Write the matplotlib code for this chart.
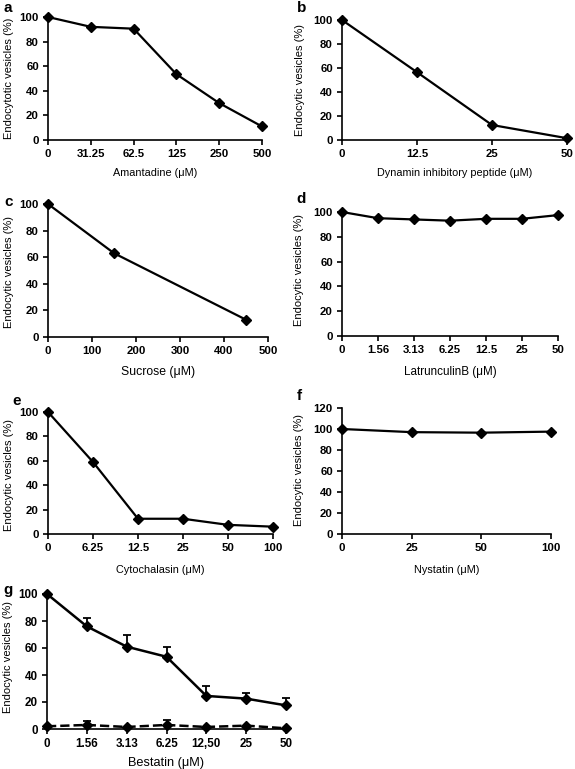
import matplotlib
matplotlib.use("Agg")
import matplotlib.pyplot as plt

plt.rcParams['font.family'] = ['Liberation Sans', 'DejaVu Sans']

# panel a - amantadine
amantadine_labels = ['0', '31.25', '62.5', '125', '250', '500']
amantadine_vals = [100, 92, 90.5, 53.5, 30, 11]

# panel b - dynamin inhibitory peptide
dynamin_labels = ['0', '12.5', '25', '50']
dynamin_vals = [100, 56.5, 12.5, 1.5]

# panel c - sucrose (numeric axis)
sucrose_x = [0, 150, 450]
sucrose_vals = [100, 63, 13]

# panel d - latrunculin B
latb_labels = ['0', '1.56', '3.13', '6.25', '12.5', '25', '50']
latb_vals = [100, 95, 94, 93, 94.5, 94.5, 97.5]

# panel e - cytochalasin
cyto_labels = ['0', '6.25', '12.5', '25', '50', '100']
cyto_vals = [100, 59, 12.5, 12.5, 7.5, 6]

# panel f - nystatin
nys_labels = ['0', '25', '50', '100']
nys_vals = [100, 97, 96.5, 97.5]

# panel g - bestatin, two series with upper error bars
best_labels = ['0', '1.56', '3.13', '6.25', '12,50', '25', '50']
best_vals = [100, 76, 61, 53.5, 24.5, 22.5, 17.5]
best_err = [0, 6, 9, 7.5, 7.5, 4.5, 5.5]
ctrl_vals = [2, 3, 1.5, 3, 1.5, 2.5, 0.5]
ctrl_err = [0, 3, 0, 4, 0, 0, 0]

W, H = 575, 769


def make_ax(fig, left, right, top, bottom):
    return fig.add_axes([left / W, 1 - bottom / H, (right - left) / W, (bottom - top) / H])


def style(ax, ylabel, xlabel, ylab_xy, xlab_y, xfs=7.8, fs=8.2, yfs=8.0):
    fig = ax.figure
    for s in ['top', 'right']:
        ax.spines[s].set_visible(False)
    for s in ['left', 'bottom']:
        ax.spines[s].set_linewidth(1.2)
    ax.tick_params(direction='out', length=3.5, width=1.2, labelsize=fs, pad=3)
    for t in ax.get_xticklabels() + ax.get_yticklabels():
        t.set_fontweight('bold')
    # y label: x is the right edge of the rotated text, y its centre (pixels)
    ax.set_ylabel(ylabel, fontsize=yfs)
    ax.yaxis.set_label_coords(ylab_xy[0] / W, 1 - ylab_xy[1] / H, transform=fig.transFigure)
    bb = ax.get_position()
    ax.set_xlabel(xlabel, fontsize=xfs, va='center')
    ax.xaxis.set_label_coords(bb.x0 + bb.width / 2, 1 - xlab_y / H, transform=fig.transFigure)


def letter(fig, x, y, s):
    fig.text(x / W, 1 - y / H, s, fontsize=11, fontweight='bold', va='center', ha='center')


def cat_panel(ax, labels, vals, ylim=(0, 100), yticks=range(0, 101, 20)):
    xs = list(range(len(labels)))
    ax.plot(xs, vals, color='black', lw=1.6, marker='D', ms=5, clip_on=False, zorder=3)
    ax.set_xlim(0, len(labels) - 1)
    ax.set_ylim(*ylim)
    ax.set_xticks(xs)
    ax.set_xticklabels(labels)
    ax.set_yticks(list(yticks))


fig = plt.figure(figsize=(5.75, 7.69), dpi=100)

ax = make_ax(fig, 48, 262, 17, 140)
cat_panel(ax, amantadine_labels, amantadine_vals)
style(ax, 'Endocytotic vesicles (%)', 'Amantadine (\u03bcM)', (14, 78), 173)
letter(fig, 8, 8, 'a')

ax = make_ax(fig, 342, 567, 20, 140)
cat_panel(ax, dynamin_labels, dynamin_vals)
style(ax, 'Endocytic vesicles (%)', 'Dynamin inhibitory peptide (\u03bcM)', (305, 80), 173)
letter(fig, 302, 8, 'b')

ax = make_ax(fig, 48, 268, 204, 337)
ax.plot(sucrose_x, sucrose_vals, color='black', lw=1.6, marker='D', ms=5, clip_on=False, zorder=3)
ax.set_xlim(0, 500)
ax.set_ylim(0, 100)
ax.set_xticks(range(0, 501, 100))
ax.set_yticks(range(0, 101, 20))
style(ax, 'Endocytic vesicles (%)', 'Sucrose (\u03bcM)', (14, 272), 372, xfs=8.8)
letter(fig, 9, 202, 'c')

ax = make_ax(fig, 342, 558, 212, 336)
cat_panel(ax, latb_labels, latb_vals)
style(ax, 'Endocytic vesicles (%)', 'LatrunculinB (\u03bcM)', (304, 270), 372, xfs=8.4)
letter(fig, 301, 199, 'd')

ax = make_ax(fig, 48, 273, 412, 534)
cat_panel(ax, cyto_labels, cyto_vals)
style(ax, 'Endocytic vesicles (%)', 'Cytochalasin (\u03bcM)', (14, 475), 570)
letter(fig, 17, 401, 'e')

ax = make_ax(fig, 342, 551, 408, 534)
cat_panel(ax, nys_labels, nys_vals, ylim=(0, 120), yticks=range(0, 121, 20))
style(ax, 'Endocytic vesicles (%)', 'Nystatin (\u03bcM)', (304, 470), 570)
letter(fig, 299, 396, 'f')

ax = make_ax(fig, 47, 286, 594, 729)
xs = list(range(len(best_labels)))
ax.errorbar(xs, best_vals, yerr=[[0] * len(xs), best_err], color='black', lw=1.8,
            marker='D', ms=5.5, capsize=3, elinewidth=1.3, capthick=1.3, clip_on=False, zorder=3)
ax.errorbar(xs, ctrl_vals, yerr=[[0] * len(xs), ctrl_err], color='black', lw=1.8, ls='--',
            marker='D', ms=5.5, capsize=3, elinewidth=1.3, capthick=1.3, clip_on=False, zorder=3)
ax.set_xlim(0, len(xs) - 1)
ax.set_ylim(0, 100)
ax.set_xticks(xs)
ax.set_xticklabels(best_labels)
ax.set_yticks(range(0, 101, 20))
style(ax, 'Endocytic vesicles (%)', 'Bestatin (\u03bcM)', (13, 657), 763, xfs=9.2, fs=8.4)
letter(fig, 8, 590, 'g')

fig.savefig('out.png', dpi=100)
